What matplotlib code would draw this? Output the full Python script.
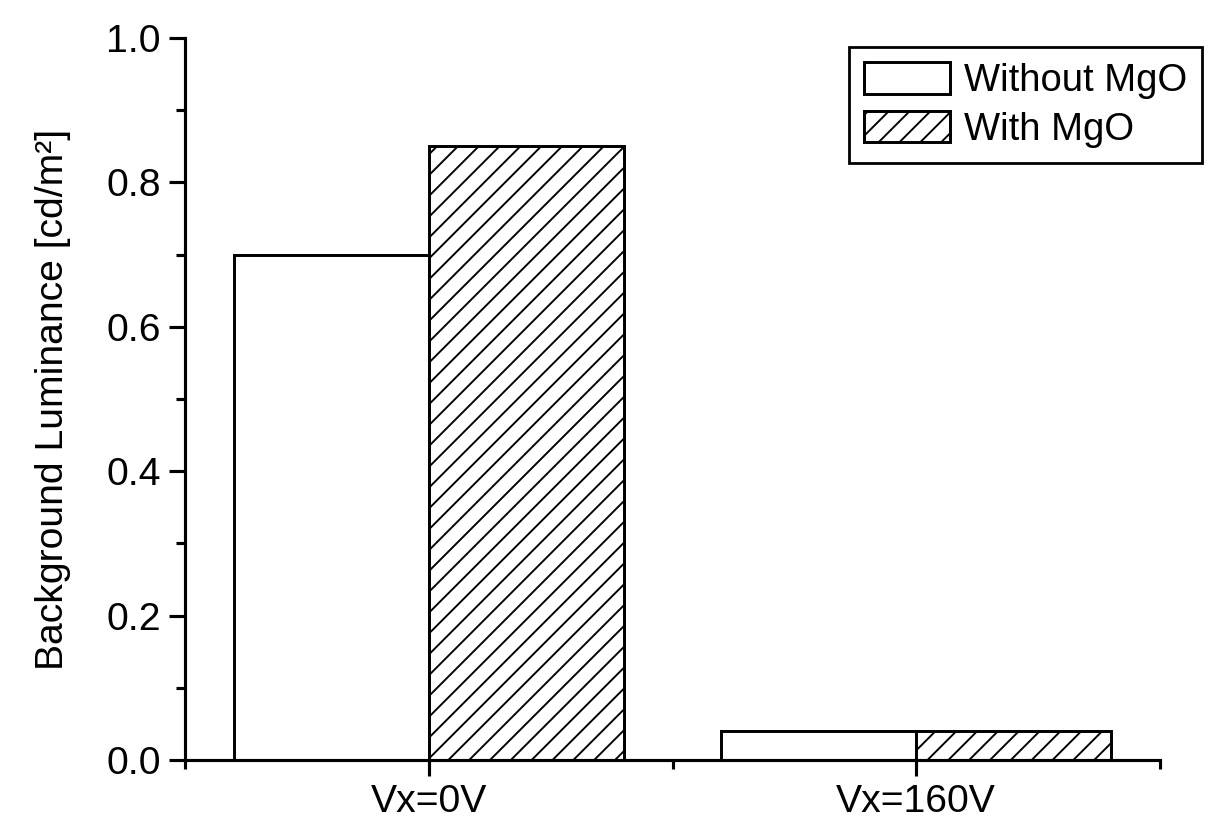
import numpy as np
import matplotlib
matplotlib.use("Agg")
import matplotlib.pyplot as plt
from matplotlib.ticker import MultipleLocator, FixedLocator, FormatStrFormatter

categories = ["Vx=0V", "Vx=160V"]
without_mgo = [0.70, 0.04]
with_mgo = [0.85, 0.04]
series_labels = ["Without MgO", "With MgO"]

plt.rcParams["font.family"] = ["Liberation Sans", "DejaVu Sans"]
plt.rcParams["hatch.linewidth"] = 1.1

dpi = 125
fig = plt.figure(figsize=(1208 / dpi, 823 / dpi), dpi=dpi)
ax = fig.add_axes([185 / 1208, 1 - 760 / 823, (1160 - 185) / 1208, (760 - 38) / 823])

x = np.arange(len(categories))
w = 0.4
ax.bar(x - w / 2, without_mgo, w, facecolor="white", edgecolor="black",
       linewidth=1.7, label=series_labels[0])
ax.bar(x + w / 2, with_mgo, w, facecolor="white", edgecolor="black",
       linewidth=1.7, hatch="//", label=series_labels[1])

ax.set_xlim(-0.5, 1.5)
ax.set_ylim(0, 1.0)
ax.set_xticks(x)
ax.set_xticklabels(categories)
ax.xaxis.set_minor_locator(FixedLocator([-0.5, 0.5, 1.5]))
ax.yaxis.set_major_locator(MultipleLocator(0.2))
ax.yaxis.set_minor_locator(MultipleLocator(0.1))
ax.yaxis.set_major_formatter(FormatStrFormatter("%.1f"))

for side in ["top", "right"]:
    ax.spines[side].set_visible(False)
for side in ["left", "bottom"]:
    ax.spines[side].set_linewidth(1.8)

ax.tick_params(axis="both", which="major", direction="out", length=9,
               width=1.8, labelsize=22.5, pad=5)
ax.tick_params(axis="both", which="minor", direction="out", length=5, width=1.8)

ax.set_ylabel("Background Luminance [cd/m²]", fontsize=22.5, labelpad=20)

leg = ax.legend(loc="upper left", bbox_to_anchor=(849 / 1208, 1 - 47 / 823),
                bbox_transform=fig.transFigure, borderaxespad=0,
                fontsize=22, frameon=True, fancybox=False, edgecolor="black",
                framealpha=1, handlelength=2.25, handleheight=0.9,
                handletextpad=0.35, labelspacing=0.3, borderpad=0.4)
leg.get_frame().set_linewidth(1.6)

fig.savefig("out.png", dpi=dpi)
